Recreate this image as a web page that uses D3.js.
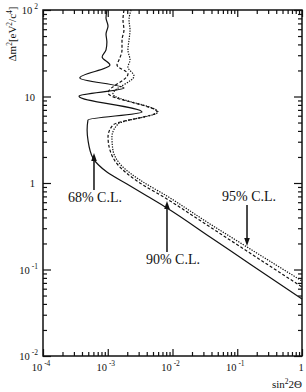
<!DOCTYPE html>
<html>
<head>
<meta charset="utf-8">
<script src="https://cdn.jsdelivr.net/npm/d3@7"></script>
<style>
  html, body { margin: 0; padding: 0; background: #fff; }
  svg { display: block; font-family: "Liberation Serif", "Times New Roman", serif; }
</style>
</head>
<body>
<svg id="chart" width="306" height="392"></svg>
<script>
// exclusion contours (top -> bottom along each curve)
const sin2_68 = [9.7e-4, 9.4e-4, 1.01e-3, 9.4e-4, 9.7e-4, 9.4e-4, 8.2e-4, 1.08e-3, 3.7e-4, 1.78e-3, 3.6e-4, 3.38e-3,
                 4.95e-4, 4.8e-4, 4.95e-4, 5.9e-4, 9.7e-4, 1.98e-3, 4.04e-3, 8.2e-3, 0.038, 0.157, 1.0];
const dm2_68  = [100, 80.8, 65.3, 52.8, 42.7, 34.5, 28.6, 23.1, 16.4, 12.5, 10.1, 6.62,
                 5.35, 4.10, 3.14, 1.95, 1.34, 0.974, 0.707, 0.514, 0.2375, 0.1158, 0.0456];

const sin2_90 = [1.78e-3, 1.72e-3, 1.78e-3, 1.66e-3, 1.66e-3, 1.49e-3, 1.39e-3, 2.05e-3, 1.01e-3, 5.76e-3,
                 1.2e-3, 1.01e-3, 1.08e-3, 1.44e-3, 2.83e-3, 8.2e-3, 0.038, 0.157, 1.0];
const dm2_90  = [100, 76.6, 58.7, 45.0, 34.5, 26.4, 23.1, 18.2, 10.98, 6.62,
                 4.68, 3.40, 2.41, 1.615, 1.054, 0.653, 0.310, 0.155, 0.0628];

const sin2_95 = [2.29e-3, 2.13e-3, 2.21e-3, 2.13e-3, 2.05e-3, 2.21e-3, 2.05e-3, 2.54e-3, 1.2e-3, 5.97e-3,
                 1.44e-3, 1.16e-3, 1.2e-3, 1.6e-3, 3.15e-3, 8.2e-3, 0.038, 0.1415, 1.0];
const dm2_95  = [100, 76.6, 58.7, 45.0, 34.5, 26.4, 21.9, 17.3, 10.7, 6.62,
                 4.81, 3.40, 2.41, 1.615, 1.083, 0.707, 0.336, 0.182, 0.0736];

const xTicks = [1e-4, 1e-3, 1e-2, 1e-1, 1];
const yTicks = [1e-2, 1e-1, 1, 10, 100];

// arrow annotations
const clLabels  = ["68% C.L.", "90% C.L.", "95% C.L."];
const arrowX    = [6.13e-4, 8.22e-3, 0.1415];
const arrowTail = [0.83, 0.159, 0.557];
const arrowTip  = [2.22, 0.619, 0.187];

const svg = d3.select('#chart');
const plot = { left: 43, right: 302, top: 10, bottom: 356 };

const x = d3.scaleLog().domain([1e-4, 1]).range([plot.left, plot.right]);
const y = d3.scaleLog().domain([1e-2, 1e2]).range([plot.bottom, plot.top]);

const isMajor = v => Math.abs(Math.log10(v) - Math.round(Math.log10(v))) < 1e-6;
const xMinor = x.ticks().filter(v => !isMajor(v));
const yMinor = y.ticks().filter(v => !isMajor(v));

// ticks on all four sides, pointing inward
function tickRow(axisFn, scale, vals, size, tr) {
  svg.append('g')
    .attr('transform', tr)
    .call(axisFn(scale).tickValues(vals).tickSize(size).tickFormat(''))
    .call(g => g.select('.domain').remove())
    .call(g => g.selectAll('line').attr('stroke', '#111').attr('stroke-width', 1.2));
}
tickRow(d3.axisBottom, x, xTicks, -7, `translate(0,${plot.bottom})`);
tickRow(d3.axisBottom, x, xMinor, -4, `translate(0,${plot.bottom})`);
tickRow(d3.axisTop, x, xTicks, -7, `translate(0,${plot.top})`);
tickRow(d3.axisTop, x, xMinor, -4, `translate(0,${plot.top})`);
tickRow(d3.axisLeft, y, yTicks, -8, `translate(${plot.left},0)`);
tickRow(d3.axisLeft, y, yMinor, -4, `translate(${plot.left},0)`);
tickRow(d3.axisRight, y, yTicks, -8, `translate(${plot.right},0)`);
tickRow(d3.axisRight, y, yMinor, -4, `translate(${plot.right},0)`);

svg.append('rect')
  .attr('x', plot.left).attr('y', plot.top)
  .attr('width', plot.right - plot.left).attr('height', plot.bottom - plot.top)
  .attr('fill', 'none').attr('stroke', '#111').attr('stroke-width', 1.5);

// tick labels "10" + exponent
function powLabel(sel, v) {
  const e = Math.round(Math.log10(v));
  if (e === 0) { sel.text('1'); return; }
  if (e === 1) { sel.text('10'); return; }
  sel.append('tspan').text('10');
  sel.append('tspan').attr('dx', 2).attr('dy', -5).attr('font-size', 7.5)
    .text(e < 0 ? '-' + (-e) : String(e));
}

xTicks.forEach(v => {
  const t = svg.append('text')
    .attr('x', isMajor(v) && v === 1 ? x(v) - 1 : x(v) - 2)
    .attr('y', 371)
    .attr('text-anchor', 'middle')
    .attr('font-size', 10.5)
    .attr('fill', '#111');
  powLabel(t, v);
});

yTicks.forEach(v => {
  const e = Math.round(Math.log10(v));
  const t = svg.append('text')
    .attr('x', e === 0 || e === 1 ? 35 : 38)
    .attr('y', y(v) + 4)
    .attr('text-anchor', 'end')
    .attr('font-size', 10.5)
    .attr('fill', '#111');
  powLabel(t, v);
});

// axis titles
const xt = svg.append('text')
  .attr('x', 302).attr('y', 388)
  .attr('text-anchor', 'end')
  .attr('font-size', 11)
  .attr('fill', '#111');
xt.append('tspan').text('sin');
xt.append('tspan').attr('dy', -4).attr('font-size', 7.5).text('2');
xt.append('tspan').attr('dy', 4).text('2\u0398');

const yt = svg.append('text')
  .attr('transform', 'translate(16,34) rotate(-90)')
  .attr('text-anchor', 'middle')
  .attr('font-size', 11)
  .attr('fill', '#111');
yt.append('tspan').text('\u0394m');
yt.append('tspan').attr('dy', -4).attr('font-size', 7.5).text('2');
yt.append('tspan').attr('dy', 4).text('[eV');
yt.append('tspan').attr('dy', -4).attr('font-size', 7.5).text('2');
yt.append('tspan').attr('dy', 4).text('/c');
yt.append('tspan').attr('dy', -4).attr('font-size', 7.5).text('4');
yt.append('tspan').attr('dy', 4).text(']');

// contours
const line = d3.line()
  .x(d => x(d[0]))
  .y(d => y(d[1]))
  .curve(d3.curveMonotoneY);

const curves = [
  { s: sin2_95, m: dm2_95, dash: '1.3,1.3' },
  { s: sin2_90, m: dm2_90, dash: '3,2' },
  { s: sin2_68, m: dm2_68, dash: null }
];
curves.forEach(c => {
  svg.append('path')
    .datum(d3.zip(c.s, c.m))
    .attr('d', line)
    .attr('fill', 'none')
    .attr('stroke', '#111')
    .attr('stroke-width', 1.2)
    .attr('stroke-dasharray', c.dash);
});

// arrows + labels
const labelDx = [1, 6, 2];
clLabels.forEach((txt, i) => {
  const ax = x(arrowX[i]);
  const y0 = y(arrowTail[i]);
  const y1 = y(arrowTip[i]);
  const dir = y1 < y0 ? -1 : 1;
  svg.append('line')
    .attr('x1', ax).attr('x2', ax)
    .attr('y1', y0).attr('y2', y1 - dir * 6)
    .attr('stroke', '#111').attr('stroke-width', 1.5);
  svg.append('path')
    .attr('d', `M${ax},${y1} L${ax - 2.8},${y1 - dir * 8} L${ax + 2.8},${y1 - dir * 8} Z`)
    .attr('fill', '#111');
  svg.append('text')
    .attr('x', ax + labelDx[i])
    .attr('y', dir < 0 ? y0 + 12 : y0 - 4)
    .attr('text-anchor', 'middle')
    .attr('font-size', 14)
    .attr('fill', '#111')
    .text(txt);
});
</script>
</body>
</html>
